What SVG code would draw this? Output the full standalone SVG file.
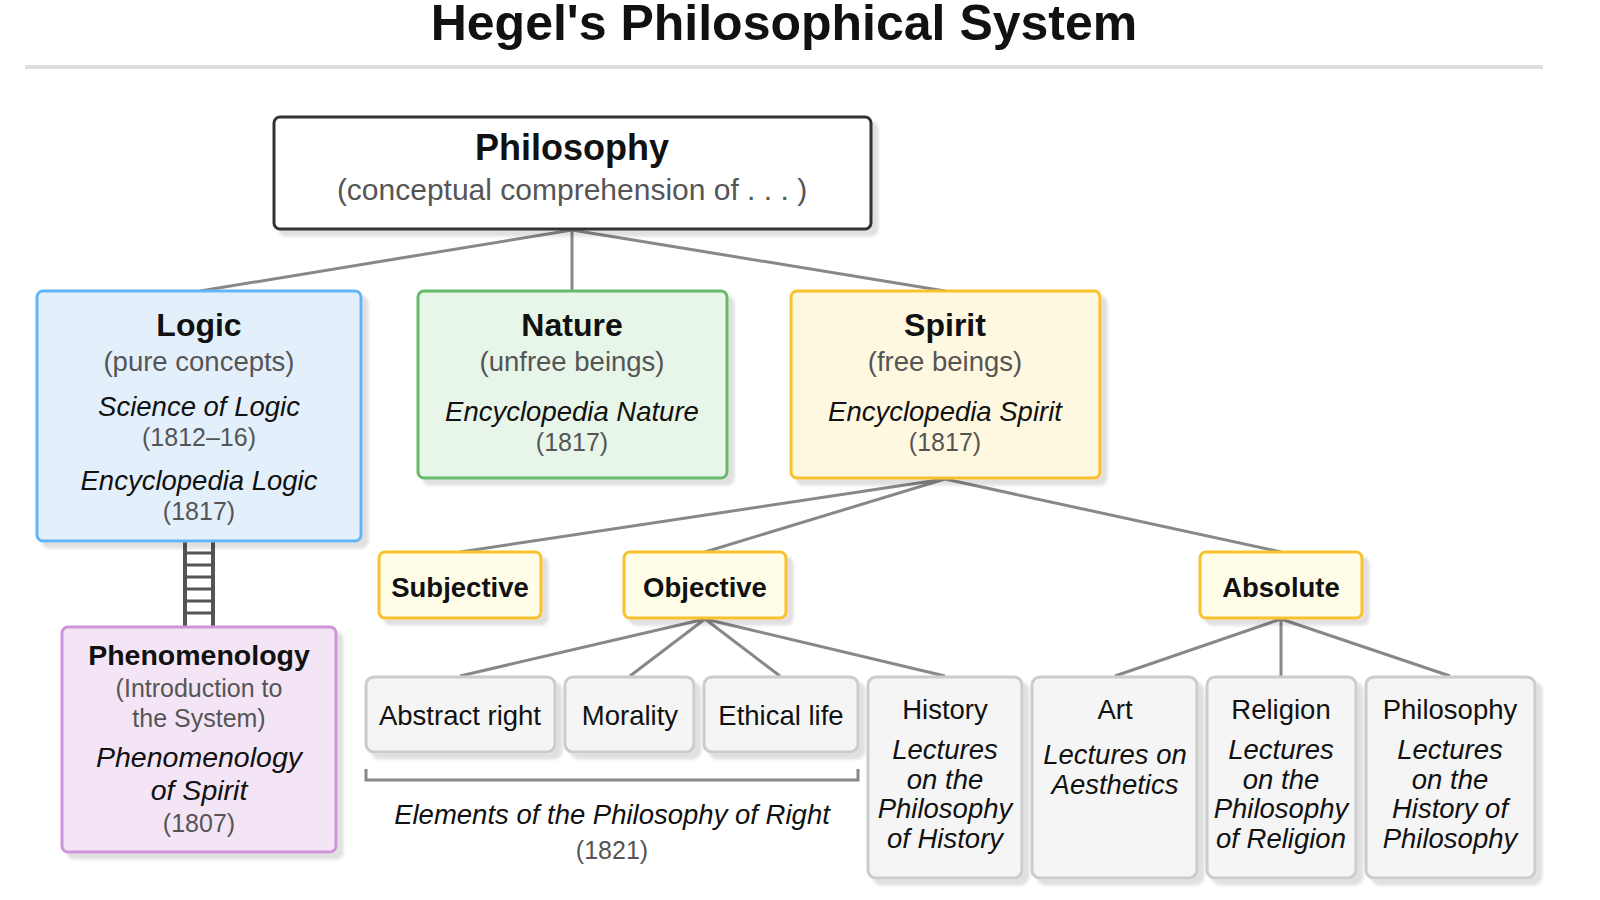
<svg xmlns="http://www.w3.org/2000/svg" width="1600" height="900" viewBox="0 0 1600 900">
<defs>
<filter id="sh" x="-10%" y="-10%" width="130%" height="130%"><feDropShadow dx="6" dy="6" stdDeviation="1.5" flood-color="#000" flood-opacity="0.12"/></filter>
</defs>
<style>
text{font-family:"Liberation Sans",Arial,sans-serif;text-anchor:middle;fill:#111}
.b{font-weight:bold}
.i{font-style:italic}
.s{fill:#555}
.c{stroke:#888;stroke-width:3;fill:none}
.g{fill:#f5f5f5;stroke:#ccc;stroke-width:3}
.y{fill:#fffde7;stroke:#fbc02d;stroke-width:3}
</style>
<rect width="1600" height="900" fill="#fff"/>
<text x="784" y="40" class="b" font-size="50">Hegel's Philosophical System</text>
<line x1="25" y1="67" x2="1543" y2="67" stroke="#ddd" stroke-width="4"/>
<g id="connectors">
<path class="c" d="M572 230L200 291M572 230V291M572 230L945 291"/>
<path class="c" d="M945 479L460 552M945 479L705 552M945 479L1281 552"/>
<path class="c" d="M705 619L460 676M705 619L630 676M705 619L780 676M705 619L945 676"/>
<path class="c" d="M1281 619L1115 676M1281 619V676M1281 619L1450 676"/>
<g stroke="#555" stroke-width="4"><path d="M185 541V627M213 541V627"/><path d="M185 553H213M185 565H213M185 577H213M185 589H213M185 601H213M185 613H213" stroke-width="3"/></g>
<path class="c" d="M366 769V780H858V769"/>
</g>
<g id="philosophy"><rect x="274" y="117" width="597" height="112" rx="6" fill="#fff" stroke="#333" stroke-width="3" filter="url(#sh)"/>
<text x="572" y="160" class="b" font-size="36">Philosophy</text><text x="572" y="200" font-size="30" class="s">(conceptual comprehension of . . . )</text></g>
<g id="logic"><rect x="37" y="291" width="324" height="250" rx="6" fill="#e3f0fc" stroke="#64b5f6" stroke-width="3" filter="url(#sh)"/>
<text x="199" y="336" class="b" font-size="32">Logic</text><text x="199" y="371" font-size="27.5" class="s">(pure concepts)</text>
<text x="199" y="416" font-size="27.5" class="i">Science of Logic</text><text x="199" y="446" font-size="25" class="s">(1812–16)</text>
<text x="199" y="490" font-size="27.5" class="i">Encyclopedia Logic</text><text x="199" y="520" font-size="25" class="s">(1817)</text></g>
<g id="nature"><rect x="418" y="291" width="309" height="187" rx="6" fill="#e8f5e9" stroke="#66bb6a" stroke-width="3" filter="url(#sh)"/>
<text x="572" y="336" class="b" font-size="32">Nature</text><text x="572" y="371" font-size="27.5" class="s">(unfree beings)</text>
<text x="572" y="421" font-size="27.5" class="i">Encyclopedia Nature</text><text x="572" y="451" font-size="25" class="s">(1817)</text></g>
<g id="spirit"><rect x="791" y="291" width="309" height="187" rx="6" fill="#fff8e1" stroke="#fbc02d" stroke-width="3" filter="url(#sh)"/>
<text x="945" y="336" class="b" font-size="32">Spirit</text><text x="945" y="371" font-size="27.5" class="s">(free beings)</text>
<text x="945" y="421" font-size="27.5" class="i">Encyclopedia Spirit</text><text x="945" y="451" font-size="25" class="s">(1817)</text></g>
<g id="phenomenology"><rect x="62" y="627" width="274" height="225" rx="6" fill="#f3e5f5" stroke="#ce93d8" stroke-width="3" filter="url(#sh)"/>
<text x="199" y="665" class="b" font-size="28.5">Phenomenology</text><text x="199" y="697" font-size="25" class="s">(Introduction to</text><text x="199" y="727" font-size="25" class="s">the System)</text>
<text x="199" y="767" font-size="28.5" class="i">Phenomenology</text><text x="199" y="800" font-size="28.5" class="i">of Spirit</text><text x="199" y="832" font-size="25" class="s">(1807)</text></g>
<g id="subjective"><rect class="y" x="379" y="552" width="162" height="66" rx="6" filter="url(#sh)"/><text x="460" y="597" class="b" font-size="27.5">Subjective</text></g>
<g id="objective"><rect class="y" x="624" y="552" width="162" height="66" rx="6" filter="url(#sh)"/><text x="705" y="597" class="b" font-size="27.5">Objective</text></g>
<g id="absolute"><rect class="y" x="1200" y="552" width="162" height="66" rx="6" filter="url(#sh)"/><text x="1281" y="597" class="b" font-size="27.5">Absolute</text></g>
<g id="abstract-right"><rect class="g" x="366" y="677" width="189" height="75" rx="8" filter="url(#sh)"/><text x="460" y="725" font-size="27.5">Abstract right</text></g>
<g id="morality"><rect class="g" x="565" y="677" width="129" height="75" rx="8" filter="url(#sh)"/><text x="630" y="725" font-size="27.5">Morality</text></g>
<g id="ethical-life"><rect class="g" x="704" y="677" width="154" height="75" rx="8" filter="url(#sh)"/><text x="781" y="725" font-size="27.5">Ethical life</text></g>
<g id="elements"><text x="612" y="824" font-size="27.5" class="i">Elements of the Philosophy of Right</text><text x="612" y="859" font-size="25" class="s">(1821)</text></g>
<g id="history"><rect class="g" x="868" y="677" width="154" height="201" rx="8" filter="url(#sh)"/>
<text x="945" y="719" font-size="27.5">History</text><text x="945" y="759" font-size="27.5" class="i">Lectures</text><text x="945" y="789" font-size="27.5" class="i">on the</text><text x="945" y="818" font-size="27.5" class="i">Philosophy</text><text x="945" y="848" font-size="27.5" class="i">of History</text></g>
<g id="art"><rect class="g" x="1032" y="677" width="165" height="201" rx="8" filter="url(#sh)"/>
<text x="1115" y="719" font-size="27.5">Art</text><text x="1115" y="764" font-size="27.5" class="i">Lectures on</text><text x="1115" y="794" font-size="27.5" class="i">Aesthetics</text></g>
<g id="religion"><rect class="g" x="1207" y="677" width="149" height="201" rx="8" filter="url(#sh)"/>
<text x="1281" y="719" font-size="27.5">Religion</text><text x="1281" y="759" font-size="27.5" class="i">Lectures</text><text x="1281" y="789" font-size="27.5" class="i">on the</text><text x="1281" y="818" font-size="27.5" class="i">Philosophy</text><text x="1281" y="848" font-size="27.5" class="i">of Religion</text></g>
<g id="philosophy-abs"><rect class="g" x="1366" y="677" width="169" height="201" rx="8" filter="url(#sh)"/>
<text x="1450" y="719" font-size="27.5">Philosophy</text><text x="1450" y="759" font-size="27.5" class="i">Lectures</text><text x="1450" y="789" font-size="27.5" class="i">on the</text><text x="1450" y="818" font-size="27.5" class="i">History of</text><text x="1450" y="848" font-size="27.5" class="i">Philosophy</text></g>
</svg>
